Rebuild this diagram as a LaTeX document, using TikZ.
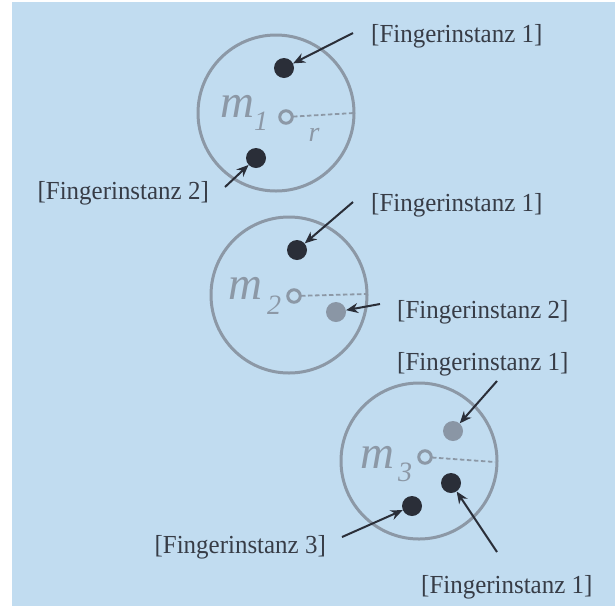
\documentclass[tikz,border=0pt]{standalone}
\usepackage{fontspec}
\setmainfont{Liberation Serif}
\usetikzlibrary{arrows.meta}
\definecolor{bg}{RGB}{193,220,240}
\definecolor{ring}{RGB}{140,152,166}
\definecolor{dotdark}{RGB}{42,46,56}
\definecolor{dotgray}{RGB}{138,150,165}
\definecolor{txt}{RGB}{55,60,70}
\begin{document}
\begin{tikzpicture}[x=1pt,y=-1pt,
  ring/.style={draw=ring,line width=3pt,circle,minimum size=156pt,inner sep=0pt},
  hub/.style={draw=ring,line width=3pt,circle,minimum size=12.5pt,inner sep=0pt,fill=bg},
  darkdot/.style={fill=dotdark,circle,minimum size=20pt,inner sep=0pt},
  graydot/.style={fill=dotgray,circle,minimum size=20pt,inner sep=0pt},
  lbl/.style={text=txt,font=\fontsize{26}{30}\selectfont,inner sep=0pt,xscale=0.96},
  mass/.style={text=ring,font=\fontsize{47}{50}\selectfont\itshape,inner sep=0pt},
  sub/.style={text=ring,font=\fontsize{28}{30}\selectfont\itshape,inner sep=0pt},
  rad/.style={draw=ring,line width=1.8pt,dash pattern=on 4.5pt off 2.5pt},
  ptr/.style={draw=dotdark,line width=2pt,-{Stealth[length=12pt,width=10pt]}}]
\fill[white] (0,0) rectangle (615,606);
\fill[bg] (12,2) rectangle (615,606);
\useasboundingbox (0,0) rectangle (615,606);
% circle 1
\node[ring] (c1) at (276,113) {};
\coordinate (e1) at (354,113);
\draw[rad] (286,117) -- (e1);
\node[hub] (h1) at (286,117) {};
\node[mass] (m1) at (237,106) {m};
\node[sub] (s1) at (261,121) {1};
\node[sub] (r1) at (314,135) {r};
\node[darkdot] (d11) at (284,68) {};
\node[darkdot] (d12) at (256,158) {};
\node[lbl,anchor=west] (l11) at (371,36) {[Fingerinstanz 1]};
\node[lbl,anchor=east] (l12) at (209,193) {[Fingerinstanz 2]};
\coordinate (a11) at (353,33);
\coordinate (a12) at (225,187);
\draw[ptr] (a11) -- (d11);
\draw[ptr] (a12) -- (d12);
% circle 2
\node[ring] (c2) at (289,295) {};
\coordinate (e2) at (366,294);
\draw[rad] (294,296) -- (e2);
\node[hub] (h2) at (294,296) {};
\node[mass] (m2) at (245,288) {m};
\node[sub] (s2) at (274,305) {2};
\node[darkdot] (d21) at (297,250) {};
\node[graydot] (d22) at (336,312) {};
\node[lbl,anchor=west] (l21) at (371,205) {[Fingerinstanz 1]};
\node[lbl,anchor=west] (l22) at (397,312) {[Fingerinstanz 2]};
\coordinate (a21) at (353,202);
\coordinate (a22) at (380,304);
\draw[ptr] (a21) -- (d21);
\draw[ptr] (a22) -- (d22);
% circle 3
\node[ring] (c3) at (419,461) {};
\coordinate (e3) at (495,462);
\draw[rad] (425,457) -- (e3);
\node[hub] (h3) at (425,457) {};
\node[mass] (m3) at (377,457) {m};
\node[sub] (s3) at (405,472) {3};
\node[graydot] (d31) at (453,431) {};
\node[darkdot] (d32) at (451,483) {};
\node[darkdot] (d33) at (412,506) {};
\node[lbl,anchor=west] (l31) at (397,364) {[Fingerinstanz 1]};
\node[lbl,anchor=west] (l32) at (421,587) {[Fingerinstanz 1]};
\node[lbl,anchor=east] (l33) at (326,547) {[Fingerinstanz 3]};
\coordinate (a31) at (497,381);
\coordinate (a32) at (497,552);
\coordinate (a33) at (342,537);
\draw[ptr] (a31) -- (d31);
\draw[ptr] (a32) -- (d32);
\draw[ptr] (a33) -- (d33);
\end{tikzpicture}
\end{document}
